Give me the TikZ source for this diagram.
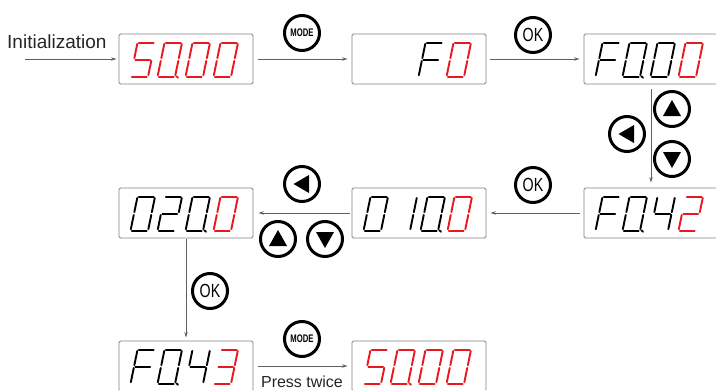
\documentclass[tikz,border=0pt]{standalone}
\usepackage{fontspec}
\setmainfont{Liberation Sans}
\usetikzlibrary{arrows.meta}

\definecolor{segred}{RGB}{232,24,30}
\definecolor{boxgray}{RGB}{130,130,130}
\definecolor{linegray}{RGB}{95,95,95}

% seven-segment geometry: width, height, slant of the top edge
\def\dw{17.5}\def\dh{34}\def\ds{7}

\tikzset{
  seg/.style={line width=1.9pt, line cap=round, shorten <=1.4pt, shorten >=1.4pt},
  display/.style={draw=boxgray, line width=0.9pt, rounded corners=1.5pt,
    minimum width=134pt, minimum height=50pt, inner sep=0pt},
  btn/.style={circle, draw=black, line width=3pt, fill=white,
    minimum size=35pt, inner sep=0pt},
  conn/.style={draw=linegray, line width=0.8pt, -{Stealth[length=5.5pt,width=3.5pt]}},
}

\newcommand\segline[4]{\draw[seg] ({#1*\dw+#2*\ds},{-#2*\dh}) -- ({#3*\dw+#4*\ds},{-#4*\dh});}
\newcommand\digsega{\segline{0}{1}{1}{1}}
\newcommand\digsegb{\segline{1}{1}{1}{0.5}}
\newcommand\digsegc{\segline{1}{0.5}{1}{0}}
\newcommand\digsegd{\segline{0}{0}{1}{0}}
\newcommand\digsege{\segline{0}{0}{0}{0.5}}
\newcommand\digsegf{\segline{0}{0.5}{0}{1}}
\newcommand\digsegg{\segline{0}{0.5}{1}{0.5}}
\newcommand\digsegp{\draw[line width=1.9pt, line cap=round] ({\dw+1.2},{-0.3}) -- ({\dw+3},{1.2});}

% segment sets
\def\dZero{a,b,c,d,e,f}
\def\dZeroP{a,b,c,d,e,f,p}
\def\dOne{b,c}
\def\dTwo{a,b,g,e,d}
\def\dThree{a,b,g,c,d}
\def\dFour{f,g,b,c}
\def\dFive{a,f,g,c,d}
\def\dF{a,f,g,e}

% \sevenseg{display}{slot offset}{colour}{segment set}
\newcommand\sevenseg[4]{%
  \begin{scope}[shift={(#1.north west)}, shift={(#2,43)}, #3]
    \foreach \sg in #4 {\csname digseg\sg\endcsname}
  \end{scope}}

\newcommand\triL[1]{\fill[black] ([shift={(-8.5,0)}]#1.center) -- ([shift={(7,-9)}]#1.center) -- ([shift={(7,9)}]#1.center) -- cycle;}
\newcommand\triU[1]{\fill[black] ([shift={(0,-9)}]#1.center) -- ([shift={(9,7)}]#1.center) -- ([shift={(-9,7)}]#1.center) -- cycle;}
\newcommand\triD[1]{\fill[black] ([shift={(0,9)}]#1.center) -- ([shift={(9,-7)}]#1.center) -- ([shift={(-9,-7)}]#1.center) -- cycle;}

\begin{document}
\begin{tikzpicture}[x=1pt, y=-1pt]
\useasboundingbox (0,0) rectangle (716,389);
\clip (0,0) rectangle (716,389);

% displays
\node[display] (b1) at (186,59) {};
\node[display] (b2) at (419,59) {};
\node[display] (b3) at (651,59) {};
\node[display] (b4) at (651,213) {};
\node[display] (b5) at (419,213) {};
\node[display] (b6) at (186,213) {};
\node[display] (b7) at (186,366) {};
\node[display] (b8) at (419,366) {};

% display contents
\sevenseg{b1}{12}{segred}{\dFive}
\sevenseg{b1}{39}{segred}{\dZeroP}
\sevenseg{b1}{67}{segred}{\dZero}
\sevenseg{b1}{95}{segred}{\dZero}

\sevenseg{b2}{67}{black}{\dF}
\sevenseg{b2}{95}{segred}{\dZero}

\sevenseg{b3}{12}{black}{\dF}
\sevenseg{b3}{39}{black}{\dZeroP}
\sevenseg{b3}{67}{black}{\dZero}
\sevenseg{b3}{95}{segred}{\dZero}

\sevenseg{b4}{12}{black}{\dF}
\sevenseg{b4}{39}{black}{\dZeroP}
\sevenseg{b4}{67}{black}{\dFour}
\sevenseg{b4}{95}{segred}{\dTwo}

\sevenseg{b5}{12}{black}{\dZero}
\sevenseg{b5}{41}{black}{\dOne}
\sevenseg{b5}{69}{black}{\dZeroP}
\sevenseg{b5}{96}{segred}{\dZero}

\sevenseg{b6}{12}{black}{\dZero}
\sevenseg{b6}{39}{black}{\dTwo}
\sevenseg{b6}{67}{black}{\dZeroP}
\sevenseg{b6}{95}{segred}{\dZero}

\sevenseg{b7}{12}{black}{\dF}
\sevenseg{b7}{39}{black}{\dZeroP}
\sevenseg{b7}{67}{black}{\dFour}
\sevenseg{b7}{95}{segred}{\dThree}

\sevenseg{b8}{12}{segred}{\dFive}
\sevenseg{b8}{39}{segred}{\dZeroP}
\sevenseg{b8}{67}{segred}{\dZero}
\sevenseg{b8}{95}{segred}{\dZero}

% labels
\node[anchor=base west, font=\fontsize{19}{19}\selectfont, text=black!85, inner sep=0pt] (init) at (7,48) {Initialization};
\node[anchor=base, font=\fontsize{16}{16}\selectfont, text=black!85, inner sep=0pt] (twice) at (302,387) {Press twice};

% connectors
\coordinate (start) at (25,59);
\draw[conn, shorten >=2pt] (start) -- (b1.west);
\draw[conn, shorten <=5pt, shorten >=4pt] (b1.east) -- (b2.west);
\draw[conn, shorten <=4pt, shorten >=4pt] (b2.east) -- (b3.west);
\draw[conn, shorten <=5pt, shorten >=5pt] (b3.south) -- (b4.north);
\draw[conn, shorten <=4pt, shorten >=4pt] (b4.west) -- (b5.east);
\draw[conn, shorten <=2pt, shorten >=5pt] (b5.west) -- (b6.east);
\draw[conn, shorten <=1pt, shorten >=3pt] (b6.south) -- (b7.north);
\draw[conn, shorten <=5pt, shorten >=4pt] (b7.east) -- (b8.west);

% buttons
\node[btn] (mode1) at (302,33) {\scalebox{0.7}[1]{\fontsize{11}{11}\selectfont\bfseries MODE}};
\node[btn] (ok1) at (533,35) {\scalebox{0.75}[1]{\fontsize{19}{19}\selectfont OK}};
\node[btn] (up1) at (672,109) {};
\node[btn] (left1) at (627,134) {};
\node[btn] (down1) at (672,159) {};
\node[btn] (ok2) at (533,185) {\scalebox{0.75}[1]{\fontsize{19}{19}\selectfont OK}};
\node[btn] (left2) at (302,184) {};
\node[btn] (up2) at (278,239) {};
\node[btn] (down2) at (325,239) {};
\node[btn] (ok3) at (210,291) {\scalebox{0.75}[1]{\fontsize{19}{19}\selectfont OK}};
\node[btn] (mode2) at (302,339) {\scalebox{0.7}[1]{\fontsize{11}{11}\selectfont\bfseries MODE}};

\triU{up1}
\triL{left1}
\triD{down1}
\triL{left2}
\triU{up2}
\triD{down2}
\end{tikzpicture}
\end{document}
